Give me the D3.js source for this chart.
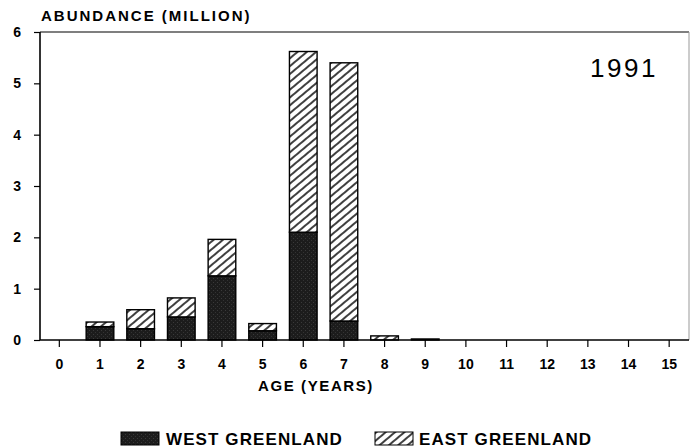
<!DOCTYPE html>
<html>
<head>
<meta charset="utf-8">
<script src="https://cdn.jsdelivr.net/npm/d3@7/dist/d3.min.js"></script>
<style>
  html, body { margin: 0; padding: 0; background: #fff; }
  svg { display: block; }
  text { font-family: "Liberation Sans", Arial, sans-serif; fill: #000; }
</style>
</head>
<body>
<svg id="chart" width="690" height="448"></svg>
<script>
// Abundance by age, in millions, 1991
const ages = [0, 1, 2, 3, 4, 5, 6, 7, 8, 9, 10, 11, 12, 13, 14, 15];
const westGreenland = [0, 0.26, 0.22, 0.45, 1.25, 0.18, 2.10, 0.37, 0, 0, 0, 0, 0, 0, 0, 0];
const eastGreenland = [0, 0.09, 0.37, 0.37, 0.71, 0.14, 3.52, 5.03, 0.08, 0.02, 0, 0, 0, 0, 0, 0];
const yTicks = [0, 1, 2, 3, 4, 5, 6];
const seriesNames = ["WEST GREENLAND", "EAST GREENLAND"];

const svg = d3.select("#chart");
const plotLeft = 40, plotRight = 689, plotTop = 32, plotBottom = 340;

const x = d3.scaleBand()
  .domain(ages)
  .range([39, 689.5])
  .paddingInner(0.32)
  .paddingOuter(0.16);

const y = d3.scaleLinear().domain([0, 6]).range([plotBottom, plotTop]);

// Patterns: speckled dark fill and diagonal hatching
const defs = svg.append("defs");
const dark = defs.append("pattern")
  .attr("id", "dark").attr("patternUnits", "userSpaceOnUse")
  .attr("width", 4).attr("height", 4);
dark.append("rect").attr("width", 4).attr("height", 4).attr("fill", "#1c1c1c");
dark.append("rect").attr("x", 1).attr("y", 2).attr("width", 1).attr("height", 1).attr("fill", "#3a3a3a");
dark.append("rect").attr("x", 3).attr("y", 0).attr("width", 1).attr("height", 1).attr("fill", "#333");

const hatch = defs.append("pattern")
  .attr("id", "hatch").attr("patternUnits", "userSpaceOnUse")
  .attr("width", 6).attr("height", 6)
  .attr("patternTransform", "rotate(-40)");
hatch.append("rect").attr("width", 6).attr("height", 6).attr("fill", "#fff");
hatch.append("line").attr("x1", 0).attr("y1", 3).attr("x2", 6).attr("y2", 3)
  .attr("stroke", "#000").attr("stroke-width", 1.5);

// Stacked bars
const stackData = ages.map((a, i) => ({ age: a, west: westGreenland[i], east: eastGreenland[i] }));
const stacked = d3.stack().keys(["west", "east"])(stackData);
const fills = { west: "url(#dark)", east: "url(#hatch)" };

stacked.forEach(layer => {
  svg.append("g")
    .selectAll("rect")
    .data(layer.filter(d => d[1] - d[0] > 0))
    .join("rect")
    .attr("x", d => x(d.data.age))
    .attr("width", x.bandwidth())
    .attr("y", d => y(d[1]))
    .attr("height", d => y(d[0]) - y(d[1]))
    .attr("fill", fills[layer.key])
    .attr("stroke", "#000")
    .attr("stroke-width", 1.4);
});

// Frame
svg.append("line").attr("x1", plotLeft).attr("x2", plotRight).attr("y1", plotTop).attr("y2", plotTop)
  .attr("stroke", "#000").attr("stroke-width", 1.2);
svg.append("line").attr("x1", plotRight).attr("x2", plotRight).attr("y1", plotTop).attr("y2", plotBottom)
  .attr("stroke", "#999").attr("stroke-width", 1);

// Y axis
const yAxis = svg.append("g")
  .attr("transform", `translate(${plotLeft},0)`)
  .call(d3.axisLeft(y).tickValues(yTicks).tickSize(6).tickPadding(13).tickFormat(d3.format("d")));
yAxis.select(".domain").attr("stroke-width", 1.6).attr("d", `M0,${plotTop}V${plotBottom}`);
yAxis.selectAll(".tick line").attr("stroke-width", 1.2);
yAxis.selectAll("text").attr("font-size", 14).attr("font-weight", "bold")
  .attr("font-family", "'Liberation Sans', Arial, sans-serif");

// X axis
const xAxis = svg.append("g")
  .attr("transform", `translate(0,${plotBottom})`)
  .call(d3.axisBottom(x).tickSize(7).tickPadding(12).tickSizeOuter(0));
xAxis.select(".domain").attr("stroke-width", 1.6).attr("d", `M${plotLeft},0H${plotRight}`);
xAxis.selectAll(".tick line").attr("stroke-width", 1.2);
xAxis.selectAll("text").attr("font-size", 14).attr("font-weight", "bold")
  .attr("font-family", "'Liberation Sans', Arial, sans-serif");

// Titles
svg.append("text").attr("x", 41).attr("y", 21)
  .attr("font-size", 15).attr("font-weight", "bold").attr("letter-spacing", 2)
  .text("ABUNDANCE (MILLION)");

svg.append("text").attr("x", 316).attr("y", 391).attr("text-anchor", "middle")
  .attr("font-size", 15).attr("font-weight", "bold").attr("letter-spacing", 1.6)
  .text("AGE (YEARS)");

svg.append("text").attr("x", 590).attr("y", 77)
  .attr("font-size", 26).attr("letter-spacing", 2.5)
  .text("1991");

// Legend
const legend = svg.append("g");
const legendItems = [
  { name: seriesNames[0], fill: "url(#dark)", x: 121, tx: 166 },
  { name: seriesNames[1], fill: "url(#hatch)", x: 375, tx: 419 }
];
legendItems.forEach(item => {
  legend.append("rect").attr("x", item.x).attr("y", 432).attr("width", 38).attr("height", 13)
    .attr("fill", item.fill).attr("stroke", "#000").attr("stroke-width", 1);
  legend.append("text").attr("x", item.tx).attr("y", 444.5)
    .attr("font-size", 17).attr("font-weight", "bold").attr("letter-spacing", 1.1)
    .text(item.name);
});
</script>
</body>
</html>
